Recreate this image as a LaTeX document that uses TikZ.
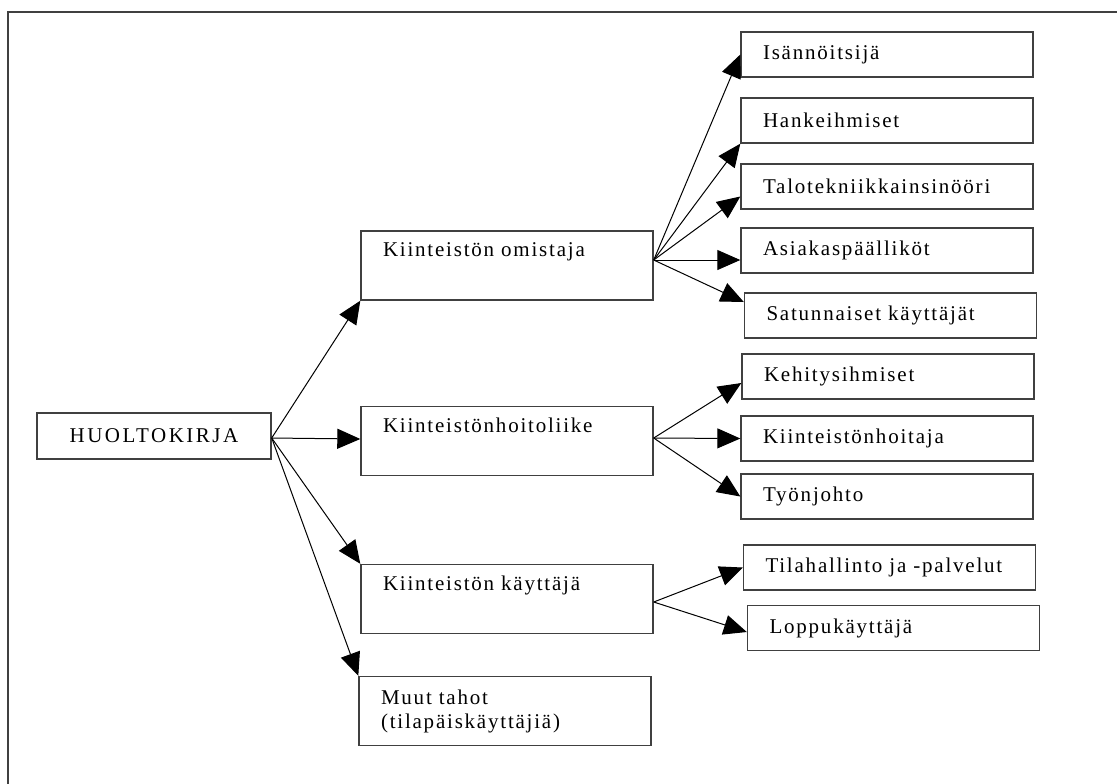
\documentclass[tikz,border=0pt]{standalone}
\usepackage{fontspec}
\setmainfont{Liberation Serif}[LetterSpace=8.5]
\usetikzlibrary{arrows.meta}

\tikzset{
  box/.style={draw=black!75, line width=0.7pt, inner xsep=11pt, align=left,
    font=\fontsize{10.5}{12}\selectfont},
  rootbox/.style={box, minimum width=117pt, minimum height=23pt, inner xsep=0pt, align=center,
    font=\fontsize{10.5}{12}\selectfont\addfontfeature{LetterSpace=12}},
  midbox/.style={box, text width=124pt, minimum height=34.5pt},
  leafbox/.style={box, text width=124pt, minimum height=22.5pt},
  arr/.style={line width=0.5pt, -{Triangle[length=11.5pt,width=10pt]}},
}

\begin{document}
\begin{tikzpicture}[x=0.5pt, y=-0.5pt]
  \begin{scope}
  \clip (0,0) rectangle (1117,783);
  \draw[black!75, line width=0.7pt] (8,12) rectangle (1130,800);

  % root and the four groups
  \node[rootbox] (hk) at (154,436) {HUOLTOKIRJA};
  \node[midbox] (own) at (507,265.5) {Kiinteistön omistaja\\\strut};
  \node[midbox] (hoito) at (507,441) {Kiinteistönhoitoliike\\\strut};
  \node[midbox] (kaytt) at (507,599) {Kiinteistön käyttäjä\\\strut};
  \node[midbox] (muut) at (505,711) {Muut tahot\\(tilapäiskäyttäjiä)};

  % leaves in the right column
  \foreach \nm/\x/\y/\txt in {isa/887/54.5/Isännöitsijä, hanke/887/120.5/Hankeihmiset,
      talo/887/186.5/Talotekniikkainsinööri, asiakas/887/250.5/Asiakaspäälliköt,
      satu/890.5/315.5/Satunnaiset käyttäjät, kehi/888/376.5/Kehitysihmiset,
      khoit/887/438.5/Kiinteistönhoitaja, tyon/887/496.5/Työnjohto,
      tila/889.5/567.5/Tilahallinto ja -palvelut, loppu/893.5/628/Loppukäyttäjä}{%
    \node[leafbox] (\nm) at (\x,\y) {\txt};
  }

  % where the fans start
  \coordinate (hk-out) at ([yshift=-1pt]hk.east);
  \coordinate (own-out) at ([yshift=2.75pt]own.east);
  \coordinate (hoito-out) at ([yshift=1.5pt]hoito.east);
  \coordinate (kaytt-out) at ([yshift=-1.5pt]kaytt.east);

  \draw[arr] (hk-out) -- (own.south west);
  \draw[arr] (hk-out) -- ([yshift=1pt]hoito.west);
  \draw[arr] (hk-out) -- (kaytt.north west);
  \draw[arr] (hk-out) -- (muut.north west);

  \draw[arr] (own-out) -- (isa.west);
  \draw[arr] (own-out) -- (hanke.south west);
  \draw[arr] (own-out) -- ([yshift=-5pt]talo.west);
  \draw[arr] (own-out) -- ([yshift=-4.75pt]asiakas.west);
  \draw[arr] (own-out) -- ([yshift=6.75pt]satu.west);

  \draw[arr] (hoito-out) -- ([yshift=-3.25pt]kehi.west);
  \draw[arr] (hoito-out) -- (khoit.west);
  \draw[arr] (hoito-out) -- (tyon.west);

  \draw[arr] (kaytt-out) -- (tila.west);
  \draw[arr] (kaytt-out) -- ([yshift=-2pt]loppu.west);
  \end{scope}
\end{tikzpicture}
\end{document}
